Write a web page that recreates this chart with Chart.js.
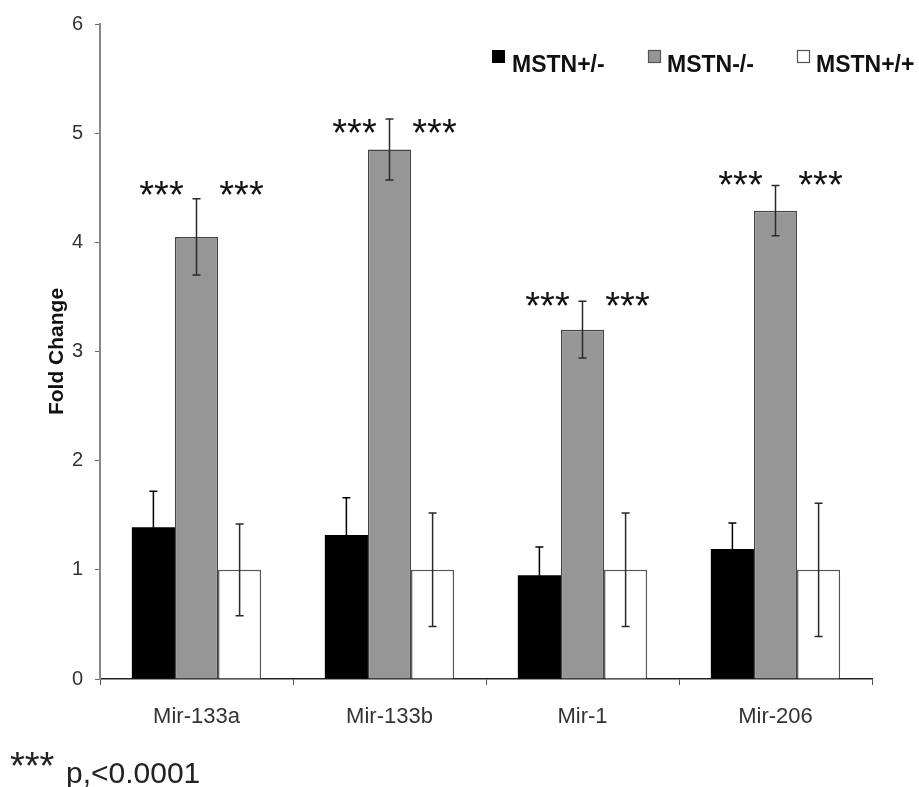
<!DOCTYPE html>
<html>
<head>
<meta charset="utf-8">
<script src="https://cdn.jsdelivr.net/npm/chart.js@4"></script>
<style>
  html, body { margin: 0; padding: 0; background: #fff; }
  #wrap { position: relative; width: 919px; height: 787px; }
</style>
</head>
<body>
<div id="wrap"><canvas id="c" width="919" height="787"></canvas></div>
<script>
// ---- data ----
const categories = ['Mir-133a', 'Mir-133b', 'Mir-1', 'Mir-206'];
const seriesNames = ['MSTN+/-', 'MSTN-/-', 'MSTN+/+'];
const hetValues = [1.39, 1.32, 0.95, 1.19];
const hetErr    = [0.33, 0.34, 0.26, 0.24];
const koValues  = [4.05, 4.85, 3.20, 4.29];
const koErr     = [0.35, 0.28, 0.26, 0.23];
const wtValues  = [1.00, 1.00, 1.00, 1.00];
const wtErr     = [0.42, 0.52, 0.52, 0.61];
const sigText   = ['***', '***', '***', '***'];
const sigLevel  = [4.50, 5.07, 3.48, 4.59];
const yTicks    = [0, 1, 2, 3, 4, 5, 6];
const footnoteStars = '***';
const footnoteText  = 'p,<0.0001';
const yTitle = 'Fold Change';

const FONT = '"Liberation Sans", Arial, Helvetica, sans-serif';

const errorArrays = [hetErr, koErr, wtErr];

const errorBarPlugin = {
  id: 'errorBars',
  afterDatasetsDraw(chart) {
    const ctx = chart.ctx;
    const y = chart.scales.y;
    ctx.save();
    chart.data.datasets.forEach((ds, di) => {
      const meta = chart.getDatasetMeta(di);
      const errs = errorArrays[di];
      meta.data.forEach((bar, i) => {
        const v = ds.data[i];
        const e = errs[i];
        const yt = y.getPixelForValue(v + e);
        const yb = y.getPixelForValue(v - e);
        const x = bar.x;
        ctx.strokeStyle = di === 0 ? '#000' : '#2a2a2a';
        ctx.lineWidth = 1.5;
        ctx.beginPath();
        ctx.moveTo(x, yt); ctx.lineTo(x, yb);
        ctx.moveTo(x - 4, yt); ctx.lineTo(x + 4, yt);
        ctx.moveTo(x - 4, yb); ctx.lineTo(x + 4, yb);
        ctx.stroke();
      });
    });
    ctx.restore();
  }
};

const annotationPlugin = {
  id: 'annotations',
  afterDraw(chart) {
    const ctx = chart.ctx;
    const y = chart.scales.y;
    ctx.save();
    // significance stars
    const meta = chart.getDatasetMeta(1);
    ctx.fillStyle = '#111';
    ctx.font = '38px ' + FONT;
    ctx.textAlign = 'center';
    ctx.textBaseline = 'alphabetic';
    meta.data.forEach((bar, i) => {
      const m = ctx.measureText(sigText[i]);
      const cy = y.getPixelForValue(sigLevel[i]);
      const base = cy + (m.actualBoundingBoxAscent - m.actualBoundingBoxDescent) / 2;
      ctx.fillText(sigText[i], bar.x - 35, base);
      ctx.fillText(sigText[i], bar.x + 45, base);
    });

    // legend
    const boxX = [492, 648, 797];
    const txtX = [512, 667, 816];
    ctx.font = 'bold 23px ' + FONT;
    ctx.textAlign = 'left';
    chart.data.datasets.forEach((ds, di) => {
      ctx.fillStyle = ds.backgroundColor;
      ctx.fillRect(boxX[di], 50, 13, 13);
      if (di > 0) {
        ctx.strokeStyle = '#555';
        ctx.lineWidth = 1.2;
        ctx.strokeRect(boxX[di] + 0.5, 50.5, 12, 12);
      }
      ctx.fillStyle = '#111';
      ctx.fillText(ds.label, txtX[di], 72);
    });

    // footnote
    ctx.fillStyle = '#222';
    ctx.font = '38px ' + FONT;
    const fm = ctx.measureText(footnoteStars);
    ctx.fillText(footnoteStars, 10, 759 + (fm.actualBoundingBoxAscent - fm.actualBoundingBoxDescent) / 2);
    ctx.font = '30px ' + FONT;
    ctx.fillText(footnoteText, 66, 783);
    ctx.restore();
  }
};

new Chart(document.getElementById('c'), {
  type: 'bar',
  data: {
    labels: categories,
    datasets: [
      { label: seriesNames[0], data: hetValues, backgroundColor: '#000000', borderColor: '#000000', borderWidth: 0 },
      { label: seriesNames[1], data: koValues, backgroundColor: '#969696', borderColor: '#444444', borderWidth: 1.5 },
      { label: seriesNames[2], data: wtValues, backgroundColor: '#ffffff', borderColor: '#555555', borderWidth: 1.5 }
    ]
  },
  options: {
    responsive: false,
    animation: false,
    devicePixelRatio: 1,
    categoryPercentage: 0.67,
    barPercentage: 1.0,
    layout: { padding: { left: 0, right: 47, top: 20, bottom: 0 } },
    plugins: {
      legend: { display: false },
      tooltip: { enabled: false }
    },
    scales: {
      x: {
        grid: { display: true, drawOnChartArea: false, drawTicks: true, tickLength: 6, color: '#555', offset: true },
        border: { display: true, color: '#222', width: 1.5 },
        ticks: { color: '#333', font: { family: FONT, size: 22 }, padding: 19, maxRotation: 0 },
        afterFit(scale) { scale.height = 108; }
      },
      y: {
        min: 0, max: 6,
        afterBuildTicks(scale) { scale.ticks = yTicks.map(v => ({ value: v })); },
        grid: { display: true, drawOnChartArea: false, drawTicks: true, tickLength: 5, color: '#666' },
        border: { display: true, color: '#888', width: 2 },
        ticks: { color: '#333', font: { family: FONT, size: 20 }, padding: 12 },
        title: { display: true, text: yTitle, color: '#111', font: { family: FONT, size: 21, weight: 'bold' }, padding: { top: 45, bottom: 0 } },
        afterFit(scale) { scale.width = 100; }
      }
    }
  },
  plugins: [errorBarPlugin, annotationPlugin]
});
</script>
</body>
</html>
